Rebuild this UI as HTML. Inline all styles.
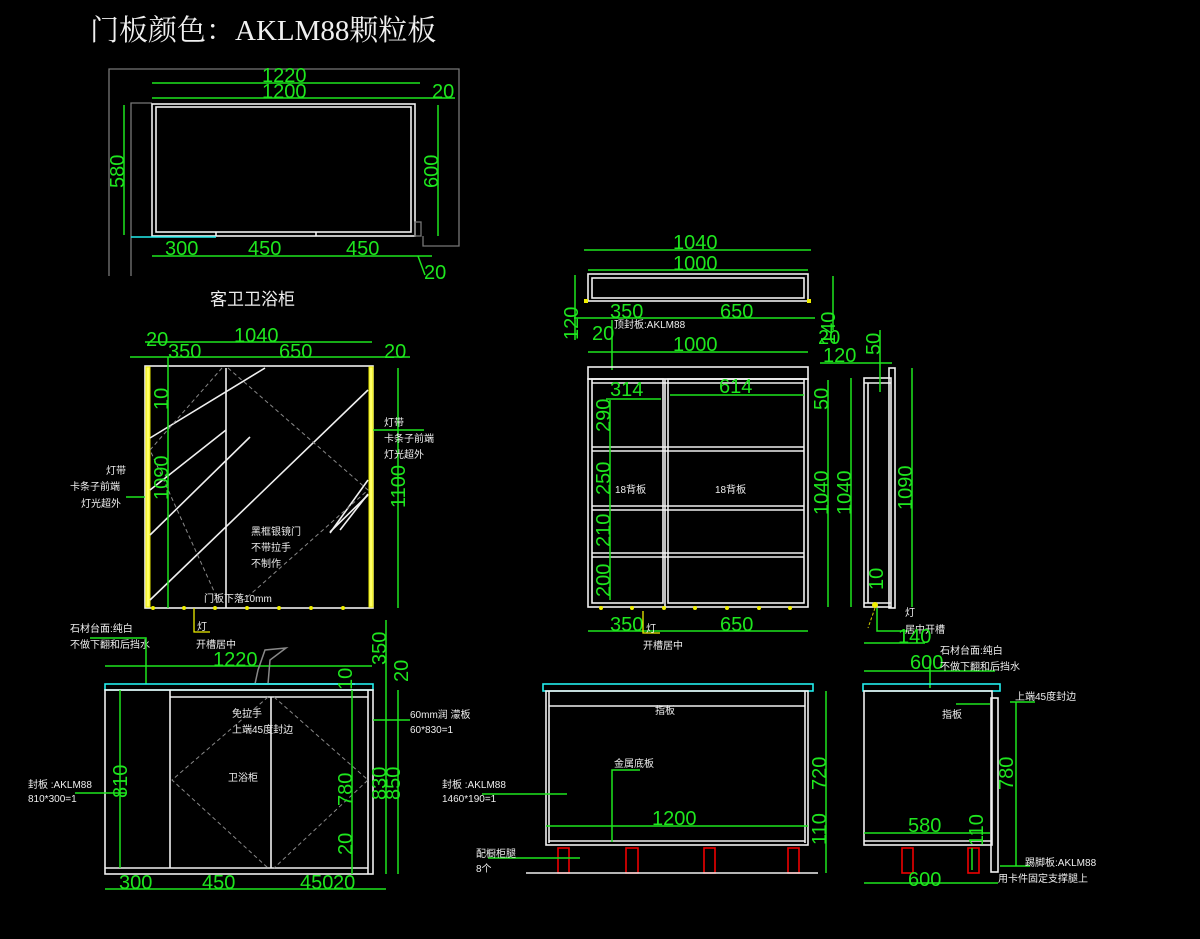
<!DOCTYPE html>
<html><head><meta charset="utf-8"><style>
html,body{margin:0;padding:0;background:#000;}
svg{display:block}
.g{stroke:#1ee61e;stroke-width:1.5;fill:none}
.w{stroke:#f0f0f0;stroke-width:1.6;fill:none}
.gy{stroke:#777;stroke-width:1.3;fill:none}
.d{stroke:#888;stroke-width:1;fill:none;stroke-dasharray:4 3}
.dim{fill:#1ee61e;font-family:"Liberation Sans",sans-serif;font-size:20px}
.t{fill:#eee;font-family:"Liberation Sans","Noto Sans CJK SC",sans-serif;font-size:10px}
.y{fill:#ffff66;stroke:#e8e800;stroke-width:1}
.r{stroke:#e00;stroke-width:1.6;fill:none}
.c{stroke:#2ee;stroke-width:1.6;fill:none}
</style></head><body>
<svg width="1200" height="939" viewBox="0 0 1200 939" xmlns="http://www.w3.org/2000/svg">
<text x="90" y="40" fill="#f0f0f0" font-family="'Liberation Serif','Noto Serif CJK SC',serif" font-size="29">门板颜色：AKLM88颗粒板</text>

<!-- top plan -->
<polyline class="gy" points="109,276 109,69 459,69 459,246 423,246 423,236"/>
<polyline class="gy" points="131,276 131,103 152,103"/>
<rect class="w" x="152" y="104" width="263" height="132"/>
<rect class="w" x="156" y="107" width="255" height="125"/>
<line class="w" x1="216" y1="232" x2="216" y2="236"/><line class="w" x1="316" y1="232" x2="316" y2="236"/>
<line class="c" x1="131" y1="237" x2="216" y2="237"/>
<rect class="gy" x="415" y="222" width="6" height="14"/>
<line class="g" x1="152" y1="83" x2="420" y2="83"/><text class="dim" x="262" y="82">1220</text>
<line class="g" x1="152" y1="98" x2="455" y2="98"/><text class="dim" x="262" y="98">1200</text><text class="dim" x="432" y="98">20</text>
<line class="g" x1="124" y1="105" x2="124" y2="235"/><text class="dim" transform="translate(124,188) rotate(-90)">580</text>
<line class="g" x1="438" y1="105" x2="438" y2="236"/><text class="dim" transform="translate(438,188) rotate(-90)">600</text>
<line class="g" x1="152" y1="256" x2="432" y2="256"/>
<text class="dim" x="165" y="255">300</text><text class="dim" x="248" y="255">450</text><text class="dim" x="346" y="255">450</text>
<line class="g" x1="418" y1="256" x2="425" y2="275"/><text class="dim" x="424" y="279">20</text>
<text x="210" y="305" fill="#eee" font-family="'Liberation Sans','Noto Sans CJK SC',sans-serif" font-size="17">客卫卫浴柜</text>

<!-- front elevation -->
<rect class="w" x="145" y="366" width="228" height="242"/>
<rect class="y" x="146" y="367" width="4" height="240"/>
<rect class="y" x="369" y="367" width="4" height="240"/>
<line class="w" x1="226" y1="368" x2="226" y2="608"/>
<g class="w" stroke-width="1" stroke="#ccc">
<line x1="150" y1="438" x2="265" y2="368"/><line x1="150" y1="490" x2="226" y2="430"/><line x1="150" y1="535" x2="250" y2="437"/>
<line x1="150" y1="600" x2="368" y2="390"/><line x1="330" y1="533" x2="368" y2="480"/><line x1="340" y1="530" x2="368" y2="494"/><line x1="330" y1="532" x2="368" y2="495"/>
</g>
<polyline class="d" points="222,368 150,450 218,600"/>
<polyline class="d" points="228,368 368,490 244,600"/>
<g fill="#ee0"><circle cx="153" cy="608" r="2"/><circle cx="184" cy="608" r="2"/><circle cx="215" cy="608" r="2"/><circle cx="247" cy="608" r="2"/><circle cx="279" cy="608" r="2"/><circle cx="311" cy="608" r="2"/><circle cx="343" cy="608" r="2"/></g>
<line class="g" x1="145" y1="342" x2="372" y2="342"/><text class="dim" x="234" y="342">1040</text>
<line class="g" x1="130" y1="357" x2="410" y2="357"/>
<text class="dim" x="146" y="346">20</text><text class="dim" x="168" y="358">350</text><text class="dim" x="279" y="358">650</text><text class="dim" x="384" y="358">20</text>
<line class="g" x1="168" y1="357" x2="168" y2="608"/>
<text class="dim" transform="translate(168,410) rotate(-90)">10</text>
<text class="dim" transform="translate(168,500) rotate(-90)">1090</text>
<line class="g" x1="398" y1="368" x2="398" y2="608"/><text class="dim" transform="translate(405,508) rotate(-90)">1100</text>
<line class="g" x1="373" y1="430" x2="424" y2="430"/>
<text class="t" x="384" y="426">灯带</text><text class="t" x="384" y="442">卡条子前端</text><text class="t" x="384" y="458">灯光超外</text>
<line class="g" x1="126" y1="497" x2="145" y2="497"/>
<text class="t" x="106" y="474">灯带</text><text class="t" x="70" y="490">卡条子前端</text><text class="t" x="81" y="507">灯光超外</text>
<text class="t" x="251" y="535">黑框银镜门</text><text class="t" x="251" y="551">不带拉手</text><text class="t" x="251" y="567">不制作</text>
<text class="t" x="204" y="602">门板下落10mm</text>
<polyline points="194,608 194,632 210,632" stroke="#ee0" fill="none" stroke-width="1.3"/>
<text class="t" x="197" y="630">灯</text><text class="t" x="196" y="648">开槽居中</text>
<text class="t" x="70" y="632">石材台面:纯白</text><text class="t" x="70" y="648">不做下翻和后挡水</text>
<polyline class="g" points="90,638 146,638 146,684"/>

<!-- bottom-left elevation -->
<line class="g" x1="105" y1="666" x2="372" y2="666"/><text class="dim" x="213" y="666">1220</text>
<polyline points="255,684 258,670 265,650 286,648 270,660 268,684" stroke="#888" fill="none" stroke-width="1.5"/>
<line x1="190" y1="684" x2="355" y2="684" stroke="#888" stroke-width="2"/>
<rect class="c" x="105" y="684" width="268" height="6"/>
<rect class="w" x="105" y="690" width="268" height="184"/>
<line class="w" x1="170" y1="690" x2="170" y2="868"/><line class="w" x1="271" y1="697" x2="271" y2="868"/>
<line class="w" x1="170" y1="697" x2="368" y2="697"/><line class="w" x1="105" y1="868" x2="368" y2="868"/>
<line class="w" x1="368" y1="690" x2="368" y2="874"/>
<polyline class="d" points="268,697 172,780 268,868"/><polyline class="d" points="274,697 368,780 274,868"/>
<line class="g" x1="120" y1="690" x2="120" y2="868"/><text class="dim" transform="translate(127,798) rotate(-90)">810</text>
<line class="g" x1="352" y1="690" x2="352" y2="874"/><text class="dim" transform="translate(352,806) rotate(-90)">780</text><text class="dim" transform="translate(352,855) rotate(-90)">20</text>
<text class="dim" transform="translate(352,690) rotate(-90)">10</text>
<line class="g" x1="386" y1="620" x2="386" y2="874"/><text class="dim" transform="translate(386,800) rotate(-90)">830</text><text class="dim" transform="translate(386,665) rotate(-90)">350</text>
<line class="g" x1="398" y1="690" x2="398" y2="874"/><text class="dim" transform="translate(400,800) rotate(-90)">850</text><text class="dim" transform="translate(408,682) rotate(-90)">20</text>
<line class="g" x1="105" y1="889" x2="386" y2="889"/>
<text class="dim" x="119" y="889">300</text><text class="dim" x="202" y="889">450</text><text class="dim" x="300" y="889">450</text><text class="dim" x="333" y="889">20</text>
<text class="t" x="232" y="717">免拉手</text><text class="t" x="232" y="733">上端45度封边</text><text class="t" x="228" y="781">卫浴柜</text>
<line class="g" x1="373" y1="720" x2="410" y2="720"/><text class="t" x="410" y="718">60mm润 濛板</text><text class="t" x="410" y="733">60*830=1</text>
<line class="g" x1="75" y1="793" x2="127" y2="793"/><text class="t" x="28" y="788">封板 :AKLM88</text><text class="t" x="28" y="802">810*300=1</text>

<!-- top right plan -->
<line class="g" x1="584" y1="250" x2="811" y2="250"/><text class="dim" x="673" y="249">1040</text>
<line class="g" x1="588" y1="270" x2="808" y2="270"/><text class="dim" x="673" y="270">1000</text>
<rect class="w" x="588" y="274" width="220" height="27"/><rect class="w" x="592" y="278" width="212" height="20"/>
<rect fill="#ee0" x="584" y="299" width="4" height="4"/><rect fill="#ee0" x="807" y="299" width="4" height="4"/>
<line class="g" x1="574" y1="318" x2="815" y2="318"/>
<text class="dim" x="610" y="318">350</text><text class="dim" x="720" y="318">650</text>
<line class="g" x1="575" y1="275" x2="575" y2="340"/><text class="dim" transform="translate(578,340) rotate(-90)">120</text>
<text class="t" x="614" y="328">顶封板:AKLM88</text><text class="dim" x="592" y="340">20</text>
<line class="g" x1="833" y1="276" x2="833" y2="330"/><text class="dim" transform="translate(835,345) rotate(-90)">140</text><text class="dim" x="818" y="344">20</text>
<line class="g" x1="588" y1="352" x2="808" y2="352"/><text class="dim" x="673" y="351">1000</text>
<line class="g" x1="612" y1="320" x2="612" y2="370"/>

<!-- right front -->
<rect class="w" x="588" y="367" width="220" height="12"/>
<rect class="w" x="588" y="379" width="220" height="228"/>
<rect class="w" x="592" y="379" width="71" height="224"/>
<rect class="w" x="668" y="379" width="136" height="224"/>
<line class="w" x1="665" y1="379" x2="665" y2="607"/>
<g class="w"><line x1="592" y1="447" x2="804" y2="447"/><line x1="592" y1="451" x2="804" y2="451"/>
<line x1="592" y1="506" x2="804" y2="506"/><line x1="592" y1="510" x2="804" y2="510"/>
<line x1="592" y1="553" x2="804" y2="553"/><line x1="592" y1="557" x2="804" y2="557"/>
<line x1="592" y1="383" x2="804" y2="383"/></g>
<g fill="#ee0"><circle cx="601" cy="608" r="2"/><circle cx="632" cy="608" r="2"/><circle cx="664" cy="608" r="2"/><circle cx="695" cy="608" r="2"/><circle cx="727" cy="608" r="2"/><circle cx="759" cy="608" r="2"/><circle cx="790" cy="608" r="2"/></g>
<line class="g" x1="606" y1="399" x2="661" y2="399"/><text class="dim" x="610" y="396">314</text>
<line class="g" x1="670" y1="395" x2="804" y2="395"/><text class="dim" x="719" y="393">614</text>
<line class="g" x1="610" y1="400" x2="610" y2="600"/>
<text class="dim" transform="translate(610,432) rotate(-90)">290</text><text class="dim" transform="translate(610,495) rotate(-90)">250</text>
<text class="dim" transform="translate(610,547) rotate(-90)">210</text><text class="dim" transform="translate(610,597) rotate(-90)">200</text>
<text class="t" x="615" y="493">18背板</text><text class="t" x="715" y="493">18背板</text>
<line class="g" x1="828" y1="380" x2="828" y2="607"/><text class="dim" transform="translate(828,410) rotate(-90)">50</text><text class="dim" transform="translate(828,515) rotate(-90)">1040</text>
<line class="g" x1="851" y1="378" x2="851" y2="607"/><text class="dim" transform="translate(851,515) rotate(-90)">1040</text>
<line class="g" x1="588" y1="631" x2="808" y2="631"/><text class="dim" x="610" y="631">350</text><text class="dim" x="720" y="631">650</text>
<polyline points="643,611 643,633 660,633" stroke="#ee0" fill="none" stroke-width="1.3"/>
<text class="t" x="646" y="632">灯</text><text class="t" x="643" y="649">开槽居中</text>

<!-- side view -->
<rect class="w" x="864" y="378" width="27" height="229"/><line class="w" x1="868" y1="383" x2="868" y2="603"/>
<line class="w" x1="864" y1="383" x2="891" y2="383"/><line class="w" x1="864" y1="603" x2="891" y2="603"/>
<rect class="w" x="889" y="368" width="6" height="240"/>
<line class="g" x1="820" y1="363" x2="892" y2="363"/><text class="dim" x="823" y="362">120</text>
<line class="g" x1="880" y1="330" x2="880" y2="392"/><text class="dim" transform="translate(880,355) rotate(-90)">50</text>
<line class="g" x1="912" y1="368" x2="912" y2="607"/><text class="dim" transform="translate(912,510) rotate(-90)">1090</text>
<text class="dim" transform="translate(883,590) rotate(-90)">10</text>
<circle cx="875" cy="605" r="3" fill="#ee0"/><line x1="875" y1="608" x2="868" y2="628" stroke="#cc0" stroke-dasharray="3 2"/>
<polyline class="g" points="877,608 877,631 908,631"/>
<text class="t" x="905" y="616">灯</text><text class="t" x="905" y="633">居中开槽</text>
<line class="g" x1="864" y1="643" x2="925" y2="643"/><text class="dim" x="898" y="643">140</text>
<line class="g" x1="864" y1="671" x2="995" y2="671"/><text class="dim" x="910" y="669">600</text>
<text class="t" x="940" y="654">石材台面:纯白</text><text class="t" x="940" y="670">不做下翻和后挡水</text>
<line class="g" x1="930" y1="660" x2="930" y2="688"/>

<!-- bottom middle -->
<rect class="c" x="543" y="684" width="270" height="7"/>
<rect class="w" x="546" y="691" width="262" height="154"/>
<line class="w" x1="549" y1="691" x2="549" y2="843"/><line class="w" x1="805" y1="691" x2="805" y2="843"/>
<line class="w" x1="549" y1="706" x2="805" y2="706"/><line class="w" x1="549" y1="841" x2="805" y2="841"/>
<g class="r"><rect x="558" y="848" width="11" height="25"/><rect x="626" y="848" width="12" height="25"/><rect x="704" y="848" width="11" height="25"/><rect x="788" y="848" width="11" height="25"/></g>
<line class="w" x1="526" y1="873" x2="818" y2="873"/>
<line class="g" x1="826" y1="691" x2="826" y2="873"/><text class="dim" transform="translate(826,790) rotate(-90)">720</text><text class="dim" transform="translate(826,845) rotate(-90)">110</text>
<line class="g" x1="546" y1="826" x2="808" y2="826"/><text class="dim" x="652" y="825">1200</text>
<polyline class="g" points="640,770 612,770 612,842"/>
<text class="t" x="614" y="767">金属底板</text><text class="t" x="655" y="714">指板</text>
<line class="g" x1="482" y1="794" x2="567" y2="794"/><text class="t" x="442" y="788">封板 :AKLM88</text><text class="t" x="442" y="802">1460*190=1</text>
<line class="g" x1="488" y1="858" x2="580" y2="858"/><text class="t" x="476" y="857">配橱柜腿</text><text class="t" x="476" y="872">8个</text>

<!-- bottom right -->
<rect class="c" x="863" y="684" width="137" height="7"/>
<rect class="w" x="864" y="691" width="128" height="154"/>
<line class="w" x1="864" y1="841" x2="992" y2="841"/>
<rect class="w" x="991" y="698" width="7" height="174"/>
<g class="r"><rect x="902" y="848" width="11" height="25"/><rect x="968" y="848" width="11" height="25"/></g>
<line class="g" x1="864" y1="833" x2="990" y2="833"/><text class="dim" x="908" y="832">580</text>
<line class="g" x1="864" y1="883" x2="998" y2="883"/><text class="dim" x="908" y="886">600</text>
<line class="g" x1="1016" y1="702" x2="1016" y2="866"/><text class="dim" transform="translate(1013,790) rotate(-90)">780</text>
<line class="g" x1="972" y1="848" x2="972" y2="870"/><text class="dim" transform="translate(983,846) rotate(-90)">110</text>
<line class="g" x1="1010" y1="702" x2="1035" y2="702"/><text class="t" x="1015" y="700">上端45度封边</text>
<line class="g" x1="956" y1="704" x2="990" y2="704"/><text class="t" x="942" y="718">指板</text>
<line class="g" x1="1000" y1="866" x2="1030" y2="866"/><text class="t" x="1025" y="866">踢脚板:AKLM88</text><text class="t" x="998" y="882">用卡件固定支撑腿上</text>
</svg>
</body></html>
